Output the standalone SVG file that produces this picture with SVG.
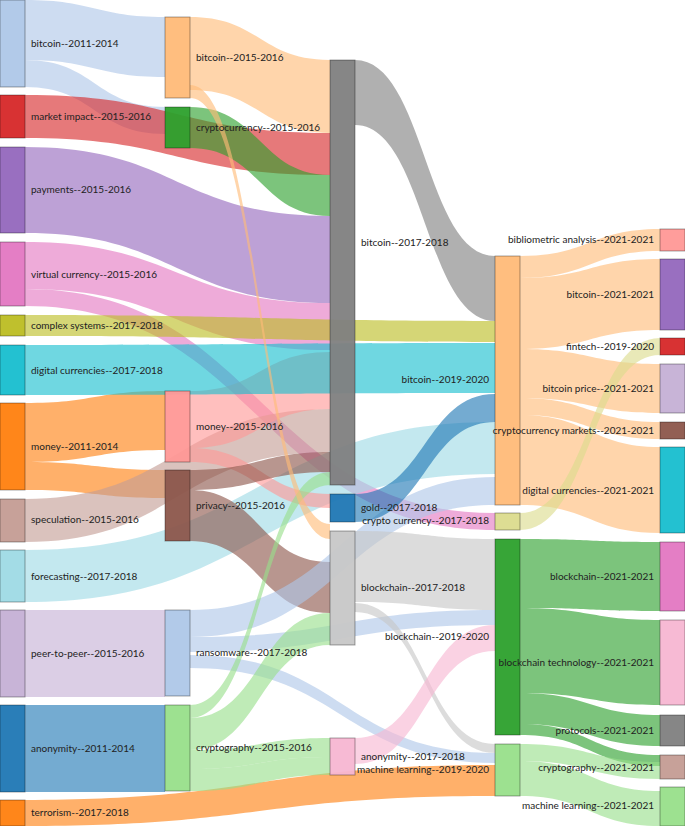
<svg xmlns="http://www.w3.org/2000/svg" width="685" height="826" viewBox="0 0 685 826">
<style>
.lk path{opacity:0.62}
.n rect{stroke:#000;stroke-opacity:0.35;stroke-width:1;fill-opacity:0.95}
text{font-family:Lato,"Open Sans",sans-serif;font-size:10px;fill:#222;dominant-baseline:middle}
.r{text-anchor:end}
</style>
<rect width="685" height="826" fill="#fff"/>
<g id="links" class="lk">
<path fill="#aec7e8" d="M25 0 C95 0 95 17 165 17 L165 77 C95 77 95 60 25 60Z"/>
<path fill="#aec7e8" d="M25 60 C95 60 95 107 165 107 L165 134 C95 134 95 87 25 87Z"/>
<path fill="#d62728" d="M25 95 C177 95 177 133 330 133 L330 175 C177 175 177 138 25 138Z"/>
<path fill="#9467bd" d="M25 147 C177 147 177 216 330 216 L330 303 C177 303 177 233 25 233Z"/>
<path fill="#e377c2" d="M25 242 C177 242 177 303 330 303 L330 350 C177 350 177 289 25 289Z"/>
<path fill="#e377c2" d="M25 289 C260 289 260 513 495 513 L495 530 C260 530 260 306 25 306Z"/>
<path fill="#ff7f0e" d="M25 403 C95 403 95 391 165 391 L165 450 C95 450 95 462 25 462Z"/>
<path fill="#ff7f0e" d="M25 462 C95 462 95 470 165 470 L165 498 C95 498 95 490 25 490Z"/>
<path fill="#c49c94" d="M25 499 C177 499 177 409 330 409 L330 452 C177 452 177 542 25 542Z"/>
<path fill="#9edae5" d="M25 550 C260 550 260 422 495 422 L495 474 C260 474 260 602 25 602Z"/>
<path fill="#c5b0d5" d="M25 610 C95 610 95 610 165 610 L165 697 C95 697 95 697 25 697Z"/>
<path fill="#1f77b4" d="M25 705 C95 705 95 705 165 705 L165 792 C95 792 95 792 25 792Z"/>
<path fill="#ff7f0e" d="M25 800 C260 800 260 765 495 765 L495 796 C260 796 260 826 25 826Z"/>
<path fill="#ffbb78" d="M190 17 C260 17 260 60 330 60 L330 133 C260 133 260 90 190 90Z"/>
<path fill="#2ca02c" d="M190 107 C260 107 260 175 330 175 L330 216 C260 216 260 148 190 148Z"/>
<path fill="#ff9896" d="M190 391 C260 391 260 352 330 352 L330 409 C260 409 260 448 190 448Z"/>
<path fill="#ff9896" d="M190 448 C260 448 260 494 330 494 L330 508 C260 508 260 462 190 462Z"/>
<path fill="#8c564b" d="M190 470 C260 470 260 452 330 452 L330 472 C260 472 260 490 190 490Z"/>
<path fill="#8c564b" d="M190 490 C260 490 260 562 330 562 L330 613 C260 613 260 541 190 541Z"/>
<path fill="#aec7e8" d="M190 610 C342 610 342 477 495 477 L495 505 C342 505 342 637 190 637Z"/>
<path fill="#aec7e8" d="M190 637 C342 637 342 610 495 610 L495 625 C342 625 342 652 190 652Z"/>
<path fill="#aec7e8" d="M190 655 C342 655 342 753 495 753 L495 763 C342 763 342 668 190 668Z"/>
<path fill="#98df8a" d="M190 705 C260 705 260 472 330 472 L330 485 C260 485 260 718 190 718Z"/>
<path fill="#98df8a" d="M190 718 C260 718 260 613 330 613 L330 645 C260 645 260 750 190 750Z"/>
<path fill="#98df8a" d="M190 750 C260 750 260 738 330 738 L330 757 C260 757 260 769 190 769Z"/>
<path fill="#98df8a" d="M190 769 C260 769 260 757 330 757 L330 775 C260 775 260 791 190 791Z"/>
<path fill="#7f7f7f" d="M355 60 C425 60 425 256 495 256 L495 321 C425 321 425 125 355 125Z"/>
<path fill="#bcbd22" d="M25 315 C260 315 260 321 495 321 L495 342 C260 342 260 336 25 336Z"/>
<path fill="#17becf" d="M25 345 C260 345 260 343 495 343 L495 393 C260 393 260 395 25 395Z"/>
<path fill="#1f77b4" d="M355 494 C425 494 425 394 495 394 L495 422 C425 422 425 522 355 522Z"/>
<path fill="#c7c7c7" d="M355 531 C425 531 425 539 495 539 L495 610 C425 610 425 602 355 602Z"/>
<path fill="#c7c7c7" d="M355 603 C425 603 425 744 495 744 L495 753 C425 753 425 612 355 612Z"/>
<path fill="#f7b6d2" d="M355 738 C425 738 425 625 495 625 L495 651 C425 651 425 764 355 764Z"/>
<path fill="#ffbb78" d="M190 85 C260 85 260 524 330 524 L330 539 C260 539 260 98 190 98Z"/>
<path fill="#ffbb78" d="M520 256 C590 256 590 229 660 229 L660 251 C590 251 590 278 520 278Z"/>
<path fill="#ffbb78" d="M520 278 C590 278 590 259 660 259 L660 330 C590 330 590 349 520 349Z"/>
<path fill="#ffbb78" d="M520 349 C590 349 590 364 660 364 L660 413 C590 413 590 398 520 398Z"/>
<path fill="#ffbb78" d="M520 398 C590 398 590 422 660 422 L660 439 C590 439 590 415 520 415Z"/>
<path fill="#ffbb78" d="M520 415 C590 415 590 447 660 447 L660 533 C590 533 590 505 520 505Z"/>
<path fill="#dbdb8d" d="M520 513 C590 513 590 338 660 338 L660 355 C590 355 590 530 520 530Z"/>
<path fill="#2ca02c" d="M520 539 C590 539 590 542 660 542 L660 611 C590 611 590 608 520 608Z"/>
<path fill="#2ca02c" d="M520 608 C590 608 590 620 660 620 L660 705 C590 705 590 693 520 693Z"/>
<path fill="#2ca02c" d="M520 693 C590 693 590 715 660 715 L660 746 C590 746 590 724 520 724Z"/>
<path fill="#2ca02c" d="M520 724 C590 724 590 755 660 755 L660 766 C590 766 590 735 520 735Z"/>
<path fill="#98df8a" d="M520 744 C590 744 590 762 660 762 L660 779 C590 779 590 761 520 761Z"/>
<path fill="#98df8a" d="M520 761 C590 761 590 791 660 791 L660 826 C590 826 590 796 520 796Z"/>
</g>
<g class="n">
<g id="n-bitcoin-2011"><rect x="0" y="0" width="25" height="87" fill="#aec7e8"/><text x="31" y="44">bitcoin--2011-2014</text></g>
<g id="n-market-impact"><rect x="0" y="95" width="25" height="43" fill="#d62728"/><text x="31" y="117">market impact--2015-2016</text></g>
<g id="n-payments"><rect x="0" y="147" width="25" height="86" fill="#9467bd"/><text x="31" y="190">payments--2015-2016</text></g>
<g id="n-virtual"><rect x="0" y="242" width="25" height="64" fill="#e377c2"/><text x="31" y="275">virtual currency--2015-2016</text></g>
<g id="n-complex"><rect x="0" y="315" width="25" height="21" fill="#bcbd22"/><text x="31" y="326">complex systems--2017-2018</text></g>
<g id="n-digital-2017"><rect x="0" y="345" width="25" height="50" fill="#17becf"/><text x="31" y="371">digital currencies--2017-2018</text></g>
<g id="n-money-2011"><rect x="0" y="403" width="25" height="87" fill="#ff7f0e"/><text x="31" y="447">money--2011-2014</text></g>
<g id="n-speculation"><rect x="0" y="499" width="25" height="43" fill="#c49c94"/><text x="31" y="520">speculation--2015-2016</text></g>
<g id="n-forecasting"><rect x="0" y="550" width="25" height="52" fill="#9edae5"/><text x="31" y="577">forecasting--2017-2018</text></g>
<g id="n-p2p"><rect x="0" y="610" width="25" height="87" fill="#c5b0d5"/><text x="31" y="654">peer-to-peer--2015-2016</text></g>
<g id="n-anonymity-2011"><rect x="0" y="705" width="25" height="87" fill="#1f77b4"/><text x="31" y="749">anonymity--2011-2014</text></g>
<g id="n-terrorism"><rect x="0" y="800" width="25" height="26" fill="#ff7f0e"/><text x="31" y="813">terrorism--2017-2018</text></g>
<g id="n-bitcoin-2015"><rect x="165" y="17" width="25" height="81" fill="#ffbb78"/><text x="196" y="58">bitcoin--2015-2016</text></g>
<g id="n-crypto-2015"><rect x="165" y="107" width="25" height="41" fill="#2ca02c"/><text x="196" y="128">cryptocurrency--2015-2016</text></g>
<g id="n-money-2015"><rect x="165" y="391" width="25" height="71" fill="#ff9896"/><text x="196" y="427">money--2015-2016</text></g>
<g id="n-privacy"><rect x="165" y="470" width="25" height="71" fill="#8c564b"/><text x="196" y="506">privacy--2015-2016</text></g>
<g id="n-ransomware"><rect x="165" y="610" width="25" height="86" fill="#aec7e8"/><text x="196" y="653">ransomware--2017-2018</text></g>
<g id="n-cryptography-2015"><rect x="165" y="705" width="25" height="86" fill="#98df8a"/><text x="196" y="748">cryptography--2015-2016</text></g>
<g id="n-bitcoin-2017"><rect x="330" y="60" width="25" height="425" fill="#7f7f7f"/><text x="361" y="243">bitcoin--2017-2018</text></g>
<g id="n-gold"><rect x="330" y="494" width="25" height="28" fill="#1f77b4"/><text x="361" y="508">gold--2017-2018</text></g>
<g id="n-blockchain-2017"><rect x="330" y="531" width="25" height="114" fill="#c7c7c7"/><text x="361" y="588">blockchain--2017-2018</text></g>
<g id="n-anonymity-2017"><rect x="330" y="738" width="25" height="37" fill="#f7b6d2"/><text x="361" y="757">anonymity--2017-2018</text></g>
<g id="n-bitcoin-2019"><rect x="495" y="256" width="25" height="249" fill="#ffbb78"/><text class="r" x="489" y="380">bitcoin--2019-2020</text></g>
<g id="n-cryptocurrency-2017"><rect x="495" y="513" width="25" height="17" fill="#dbdb8d"/><text class="r" x="489" y="521">crypto currency--2017-2018</text></g>
<g id="n-blockchain-2019"><rect x="495" y="539" width="25" height="196" fill="#2ca02c"/><text class="r" x="489" y="637">blockchain--2019-2020</text></g>
<g id="n-ml-2019"><rect x="495" y="744" width="25" height="52" fill="#98df8a"/><text class="r" x="489" y="770">machine learning--2019-2020</text></g>
<g id="n-biblio"><rect x="660" y="229" width="25" height="22" fill="#ff9896"/><text class="r" x="654" y="240">bibliometric analysis--2021-2021</text></g>
<g id="n-bitcoin-2021"><rect x="660" y="259" width="25" height="71" fill="#9467bd"/><text class="r" x="654" y="295">bitcoin--2021-2021</text></g>
<g id="n-fintech"><rect x="660" y="338" width="25" height="17" fill="#d62728"/><text class="r" x="654" y="347">fintech--2019-2020</text></g>
<g id="n-bitcoin-price"><rect x="660" y="364" width="25" height="49" fill="#c5b0d5"/><text class="r" x="654" y="389">bitcoin price--2021-2021</text></g>
<g id="n-cm-2021"><rect x="660" y="422" width="25" height="17" fill="#8c564b"/><text class="r" x="654" y="431">cryptocurrency markets--2021-2021</text></g>
<g id="n-digital-2021"><rect x="660" y="447" width="25" height="86" fill="#17becf"/><text class="r" x="654" y="491">digital currencies--2021-2021</text></g>
<g id="n-blockchain-2021"><rect x="660" y="542" width="25" height="69" fill="#e377c2"/><text class="r" x="654" y="577">blockchain--2021-2021</text></g>
<g id="n-bt-2021"><rect x="660" y="620" width="25" height="85" fill="#f7b6d2"/><text class="r" x="654" y="663">blockchain technology--2021-2021</text></g>
<g id="n-protocols"><rect x="660" y="715" width="25" height="31" fill="#7f7f7f"/><text class="r" x="654" y="731">protocols--2021-2021</text></g>
<g id="n-cryptography-2021"><rect x="660" y="755" width="25" height="24" fill="#c49c94"/><text class="r" x="654" y="768">cryptography--2021-2021</text></g>
<g id="n-ml-2021"><rect x="660" y="787" width="25" height="39" fill="#98df8a"/><text class="r" x="654" y="806">machine learning--2021-2021</text></g>
</g>
</svg>
